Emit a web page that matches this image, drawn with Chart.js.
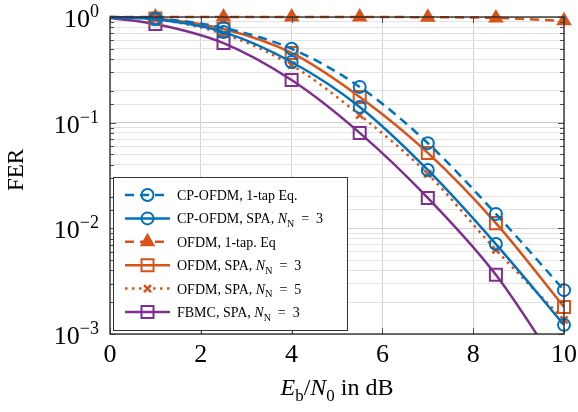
<!DOCTYPE html>
<html>
<head>
<meta charset="utf-8">
<script src="https://cdn.jsdelivr.net/npm/chart.js@4.4.0/dist/chart.umd.min.js"></script>
<style>
  html, body { margin: 0; padding: 0; background: #fff; }
  #wrap { width: 578px; height: 412px; }
</style>
</head>
<body>
<div id="wrap"><canvas id="ferChart" width="578" height="412"></canvas></div>
<script>
// Eb/N0 points (dB); the 0 dB point only starts the curve, no marker there
const ebn0 = [0, 1, 2.5, 4, 5.5, 7, 8.5, 10];

const ferCpOfdm1Tap = [1.0, 0.97, 0.79, 0.50, 0.218, 0.064, 0.0137, 0.0026];
const ferCpOfdmSpa3 = [0.99, 0.95, 0.72, 0.375, 0.141, 0.0357, 0.0071, 0.00122];
const ferOfdm1Tap   = [1.0, 1.0, 1.0, 1.0, 1.0, 0.995, 0.98, 0.92];
const ferOfdmSpa3   = [1.0, 0.97, 0.77, 0.457, 0.175, 0.0517, 0.0112, 0.0018];
const ferOfdmSpa5   = [0.99, 0.95, 0.69, 0.35, 0.118, 0.0327, 0.00625, 0.00136];
const ferFbmcSpa3   = [0.98, 0.86, 0.567, 0.253, 0.08, 0.0194, 0.00363, 0.0004];

const seriesLabels = [
    'CP-OFDM, 1-tap Eq.',
    'CP-OFDM, SPA, N_N = 3',
    'OFDM, 1-tap. Eq',
    'OFDM, SPA, N_N = 3',
    'OFDM, SPA, N_N = 5',
    'FBMC, SPA, N_N = 3'
];

const xTickLabels = [0, 2, 4, 6, 8, 10];
const yTickLabels = [1, 0.1, 0.01, 0.001];

const xTitle = 'E_b/N_0 in dB';
const yTitle = 'FER';

const BLUE = '#0072BD';
const ORANGE = '#D95319';
const PURPLE = '#7E2F8E';
const SERIF = "'Liberation Serif', 'Times New Roman', serif";

function toPoints(ys) {
    return ebn0.map((x, i) => ({ x: x, y: ys[i] }));
}

function markerRadius(r) {
    return ebn0.map((x, i) => (i === 0 ? 0 : r));
}

function makeSet(label, ys, color, dash, style, r, filled, bw) {
    return {
        label: label,
        data: toPoints(ys),
        borderColor: color,
        borderWidth: 2.5,
        borderDash: dash,
        cubicInterpolationMode: 'monotone',
        pointStyle: style,
        pointRadius: markerRadius(r),
        pointHoverRadius: markerRadius(r),
        pointBorderColor: color,
        pointBackgroundColor: filled ? color : 'rgba(0,0,0,0)',
        pointBorderWidth: bw || 2,
        clip: { left: 12, top: 12, right: 12, bottom: 0 },
        fill: false
    };
}

const datasets = [
    makeSet(seriesLabels[0], ferCpOfdm1Tap, BLUE, [9, 6], 'circle', 6, false),
    makeSet(seriesLabels[1], ferCpOfdmSpa3, BLUE, [], 'circle', 6, false),
    makeSet(seriesLabels[2], ferOfdm1Tap, ORANGE, [9, 6], 'triangle', 7, true),
    makeSet(seriesLabels[3], ferOfdmSpa3, ORANGE, [], 'rect', 8.5, false),
    makeSet(seriesLabels[4], ferOfdmSpa5, ORANGE, [2.5, 4.5], 'crossRot', 5, false, 2.5),
    makeSet(seriesLabels[5], ferFbmcSpa3, PURPLE, [], 'rect', 8.5, false)
];

// split "N_N" style text into italic letter + upright subscript
function richParts(str, size) {
    const parts = [];
    const re = /([A-Za-z])_([A-Za-z0-9])/g;
    let last = 0, m;
    while ((m = re.exec(str)) !== null) {
        if (m.index > last) parts.push({ t: str.slice(last, m.index), font: size + 'px ' + SERIF, dy: 0 });
        parts.push({ t: m[1], font: 'italic ' + size + 'px ' + SERIF, dy: 0 });
        parts.push({ t: m[2], font: Math.round(size * 0.7) + 'px ' + SERIF, dy: size * 0.25 });
        last = re.lastIndex;
    }
    if (last < str.length) parts.push({ t: str.slice(last), font: size + 'px ' + SERIF, dy: 0 });
    parts.forEach(p => { p.t = p.t.replace(' = ', '\u2002=\u2002'); });
    return parts;
}

function drawParts(ctx, parts, x, y, align) {
    let w = 0;
    parts.forEach(p => { ctx.font = p.font; p.w = ctx.measureText(p.t).width; w += p.w; });
    let cx = align === 'center' ? x - w / 2 : (align === 'right' ? x - w : x);
    ctx.textAlign = 'left';
    ctx.textBaseline = 'alphabetic';
    parts.forEach(p => {
        ctx.font = p.font;
        ctx.fillText(p.t, cx, y + p.dy);
        cx += p.w;
    });
}

const decorations = {
    id: 'decorations',
    afterDatasetsDraw(chart) {
        const ctx = chart.ctx;
        const area = chart.chartArea;
        const xs = chart.scales.x;
        const ys = chart.scales.y;
        ctx.save();

        // inner tick marks
        ctx.strokeStyle = '#4d4d4d';
        ctx.lineWidth = 1;
        ctx.setLineDash([]);
        ys.ticks.forEach(t => {
            const py = Math.round(ys.getPixelForValue(t.value)) + 0.5;
            const len = yTickLabels.includes(t.value) ? 6 : 4;
            ctx.beginPath();
            ctx.moveTo(area.left, py); ctx.lineTo(area.left + len, py);
            ctx.moveTo(area.right, py); ctx.lineTo(area.right - len, py);
            ctx.stroke();
        });
        xTickLabels.forEach(v => {
            const px = Math.round(xs.getPixelForValue(v)) + 0.5;
            ctx.beginPath();
            ctx.moveTo(px, area.bottom); ctx.lineTo(px, area.bottom - 6);
            ctx.moveTo(px, area.top); ctx.lineTo(px, area.top + 6);
            ctx.stroke();
        });

        // frame
        ctx.strokeStyle = '#262626';
        ctx.lineWidth = 1.3;
        ctx.strokeRect(area.left, area.top, area.right - area.left, area.bottom - area.top);
        ctx.restore();
    },
    afterDraw(chart) {
        const ctx = chart.ctx;
        const area = chart.chartArea;
        const xs = chart.scales.x;
        const ys = chart.scales.y;
        ctx.save();
        ctx.fillStyle = '#000';

        // x tick labels
        ctx.font = '26px ' + SERIF;
        ctx.textAlign = 'center';
        ctx.textBaseline = 'alphabetic';
        xTickLabels.forEach(v => {
            ctx.fillText(String(v), xs.getPixelForValue(v), area.bottom + 28);
        });

        // y tick labels 10^k
        yTickLabels.forEach(v => {
            const k = Math.round(Math.log10(v));
            const exp = k === 0 ? '0' : '\u2212' + Math.abs(k);
            const py = ys.getPixelForValue(v);
            drawParts(ctx, [
                { t: '10', font: '26px ' + SERIF, dy: 0 },
                { t: exp, font: '18px ' + SERIF, dy: -10 }
            ], area.left - 11, py + 10, 'right');
        });

        // axis titles
        drawParts(ctx, richParts(xTitle, 24), (area.left + area.right) / 2, area.bottom + 61, 'center');
        ctx.save();
        ctx.translate(23, 170);
        ctx.rotate(-Math.PI / 2);
        drawParts(ctx, [{ t: yTitle, font: '23px ' + SERIF, dy: 0 }], 0, 0, 'center');
        ctx.restore();

        // legend
        const lx = area.left + 3, ly = 177, lw = 234, lh = 153;
        ctx.fillStyle = '#fff';
        ctx.fillRect(lx, ly, lw, lh);
        ctx.strokeStyle = '#333';
        ctx.lineWidth = 1;
        ctx.strokeRect(lx + 0.5, ly + 0.5, lw, lh);
        chart.data.datasets.forEach((ds, i) => {
            const cy = ly + 18 + i * 23.4;
            const x0 = lx + 12, x1 = lx + 57, xm = (x0 + x1) / 2;
            ctx.save();
            ctx.strokeStyle = ds.borderColor;
            ctx.lineWidth = ds.borderWidth;
            ctx.setLineDash(ds.borderDash);
            ctx.beginPath();
            ctx.moveTo(x0, cy); ctx.lineTo(x1, cy);
            ctx.stroke();
            ctx.setLineDash([]);
            ctx.strokeStyle = ds.pointBorderColor;
            ctx.fillStyle = ds.pointBackgroundColor;
            ctx.lineWidth = ds.pointBorderWidth;
            Chart.helpers.drawPoint(ctx, {
                pointStyle: ds.pointStyle,
                radius: ds.pointRadius[1],
                rotation: 0,
                borderWidth: ds.pointBorderWidth
            }, xm, cy);
            ctx.restore();
            ctx.fillStyle = '#000';
            drawParts(ctx, richParts(ds.label, 14), lx + 64, cy + 5, 'left');
        });
        ctx.restore();
    }
};

new Chart(document.getElementById('ferChart'), {
    type: 'line',
    data: { datasets: datasets },
    options: {
        responsive: false,
        animation: false,
        devicePixelRatio: 1,
        layout: { padding: { top: 17, right: 14, left: 0, bottom: 0 } },
        plugins: {
            legend: { display: false },
            tooltip: { enabled: false }
        },
        scales: {
            x: {
                type: 'linear',
                min: 0,
                max: 10,
                ticks: { display: false, stepSize: 2 },
                grid: { color: '#d4d4d4', lineWidth: 1, drawTicks: false },
                border: { display: false },
                afterFit: s => { s.height = 78; }
            },
            y: {
                type: 'logarithmic',
                min: 0.001,
                max: 1,
                ticks: { display: false },
                grid: {
                    color: c => (yTickLabels.includes(c.tick && c.tick.value) ? '#cfcfcf' : '#e2e2e2'),
                    lineWidth: 1,
                    drawTicks: false
                },
                border: { display: false },
                afterFit: s => { s.width = 110; }
            }
        }
    },
    plugins: [decorations]
});
</script>
</body>
</html>
